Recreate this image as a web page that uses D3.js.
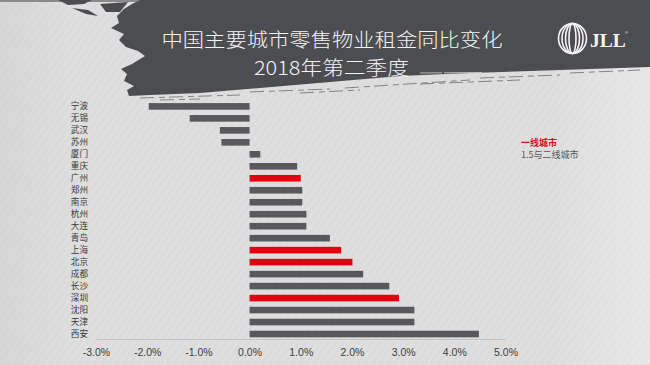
<!DOCTYPE html>
<html><head><meta charset="utf-8">
<script src="https://cdn.jsdelivr.net/npm/d3@7/dist/d3.min.js"></script>
<style>
html,body{margin:0;padding:0;background:#dcdcdc;}
svg{display:block;}
</style></head>
<body><svg id="chart" width="650" height="365"></svg>
<script>
const categories = ["宁波","无锡","武汉","苏州","厦门","重庆","广州","郑州","南京","杭州","大连","青岛","上海","北京","成都","长沙","深圳","沈阳","天津","西安"];
const values = [-1.97,-1.17,-0.58,-0.55,0.21,0.93,1.00,1.03,1.03,1.11,1.11,1.57,1.79,2.01,2.22,2.73,2.92,3.22,3.22,4.48];
const tier1 = ["广州","上海","北京","深圳"];
const tickValues = [-3,-2,-1,0,1,2,3,4,5];
const titleLines = ["中国主要城市零售物业租金同比变化","2018年第二季度"];
const legendLabels = ["一线城市","1.5与二线城市"];

const svg = d3.select("#chart");
const W = 650, H = 365;
const defs = svg.append("defs");

// background texture
const pat = defs.append("pattern").attr("id","tex").attr("width",6).attr("height",6)
  .attr("patternUnits","userSpaceOnUse").attr("patternTransform","rotate(35)");
pat.append("rect").attr("width",6).attr("height",6).attr("fill","#dcdcdc");
pat.append("line").attr("x1",0).attr("y1",0).attr("x2",0).attr("y2",6).attr("stroke","#e5e5e5").attr("stroke-width",1.6);
const grad = defs.append("linearGradient").attr("id","shade").attr("x1",0).attr("x2",1).attr("y1",0).attr("y2",0);
grad.append("stop").attr("offset","0").attr("stop-color","#c4c4c4").attr("stop-opacity",0.3);
grad.append("stop").attr("offset","0.12").attr("stop-color","#c8c8c8").attr("stop-opacity",0);
grad.append("stop").attr("offset","0.85").attr("stop-color","#ffffff").attr("stop-opacity",0);
grad.append("stop").attr("offset","1").attr("stop-color","#ffffff").attr("stop-opacity",0.3);
svg.append("rect").attr("width",W).attr("height",H).attr("fill","url(#tex)");
svg.append("rect").attr("width",W).attr("height",H).attr("fill","url(#shade)");
svg.append("rect").attr("width",W).attr("height",2).attr("fill","#8a8a8a");

// banner
const bannerPts = [[140,0],[650,0],[650,67],[560,70],[470,73],[400,76],[330,82],[260,88],[200,93],[150,95],[129,96],
 [127,90],[134,86],[124,81],[127,74],[121,69],[132,64],[145,56],[138,51],[126,47],[119,40],[124,34],[111,28],[119,23],[117,16],[124,9],[132,4]];
svg.append("path").attr("d", d3.line()(bannerPts)+"Z").attr("fill","#4b4d50");
// specks / streaks
const specks = [[[58,0],[92,0],[84,4],[68,5]],[[72,8],[88,10],[98,16],[86,14]],[[100,4],[128,2],[120,12],[106,12]]];
specks.forEach(p=>svg.append("path").attr("d",d3.line()(p)+"Z").attr("fill","#4b4d50"));
const streaks = [[140,98,240,95],[250,92,330,89],[345,88,470,80],[480,78,560,75],[160,100,200,99],[300,93,360,90],[420,84,520,80],[570,73,640,70]];
streaks.forEach(s=>svg.append("line").attr("x1",s[0]).attr("y1",s[1]).attr("x2",s[2]).attr("y2",s[3])
  .attr("stroke","#6a6c6f").attr("stroke-width",0.8).attr("stroke-dasharray","14,5,6,4"));

// title
const tf = "'Noto Sans CJK SC','Noto Sans',sans-serif";
svg.append("text").attr("x",332).attr("y",46.5).attr("text-anchor","middle")
  .attr("font-family",tf).attr("font-weight",300).attr("font-size",19)
  .attr("textLength",341).attr("lengthAdjust","spacingAndGlyphs")
  .attr("fill","#f4f4f4").text(titleLines[0]);
svg.append("text").attr("x",331.5).attr("y",74.5).attr("text-anchor","middle")
  .attr("font-family",tf).attr("font-weight",300).attr("font-size",19)
  .attr("textLength",155).attr("lengthAdjust","spacingAndGlyphs")
  .attr("fill","#f4f4f4").text(titleLines[1]);
svg.append("line").attr("x1",420).attr("y1",73).attr("x2",482).attr("y2",72.5)
  .attr("stroke","#bdbdbd").attr("stroke-width",1).attr("stroke-dasharray","22,2,38");

// JLL logo
const logo = svg.append("g").attr("fill","none").attr("stroke","#f4f4f4").attr("stroke-width",1.6);
[14,10.5,7,3.5].forEach(rx=>logo.append("ellipse").attr("cx",572.5).attr("cy",38.5).attr("rx",rx).attr("ry",15));
svg.append("text").attr("x",590).attr("y",47).attr("font-family","'Liberation Serif','DejaVu Serif',serif")
  .attr("font-weight","bold").attr("font-size",19.5).attr("fill","#f4f4f4").text("JLL");
svg.append("text").attr("x",625).attr("y",34).attr("font-family","'Liberation Sans',sans-serif")
  .attr("font-size",4).attr("fill","#f4f4f4").text("®");

// scales
const x = d3.scaleLinear().domain([-3,5]).range([96,505.5]);
const y = d3.scaleBand().domain(categories).range([100.4,340]).paddingInner(0.45).paddingOuter(0.225);

// bars
svg.append("g").selectAll("rect").data(categories).join("rect")
  .attr("x",(d,i)=>x(Math.min(0,values[i])))
  .attr("y",d=>y(d))
  .attr("width",(d,i)=>Math.abs(x(values[i])-x(0)))
  .attr("height",y.bandwidth())
  .attr("fill",d=>tier1.includes(d)?"#e3000f":"#58595d");

// left axis (categories)
const ya = svg.append("g").attr("transform","translate(88,0)")
  .call(d3.axisLeft(y).tickSize(0).tickPadding(0));
ya.select(".domain").remove();
ya.selectAll("text").attr("font-family","'Noto Sans CJK SC',sans-serif").attr("font-size",8.6).attr("fill","#3a3a3a");

// bottom axis
const xa = svg.append("g").attr("transform","translate(0,339)")
  .call(d3.axisBottom(x).tickValues(tickValues).tickSize(0).tickPadding(10).tickFormat(d=>d.toFixed(1)+"%"));
xa.select(".domain").attr("stroke","#bdbdbd").attr("stroke-width",0.8);
xa.selectAll("text").attr("font-family","'Liberation Sans',Arial,sans-serif").attr("font-size",10.5).attr("fill","#404040");

// legend
svg.append("text").attr("x",521).attr("y",146).attr("font-family","'Noto Sans CJK SC',sans-serif")
  .attr("font-size",9).attr("font-weight","bold").attr("fill","#d0121b").text(legendLabels[0]);
svg.append("text").attr("x",521).attr("y",157.5).attr("font-family","'Noto Sans CJK SC',sans-serif")
  .attr("font-size",9).attr("fill","#555").text(legendLabels[1]);
</script>
</body></html>
